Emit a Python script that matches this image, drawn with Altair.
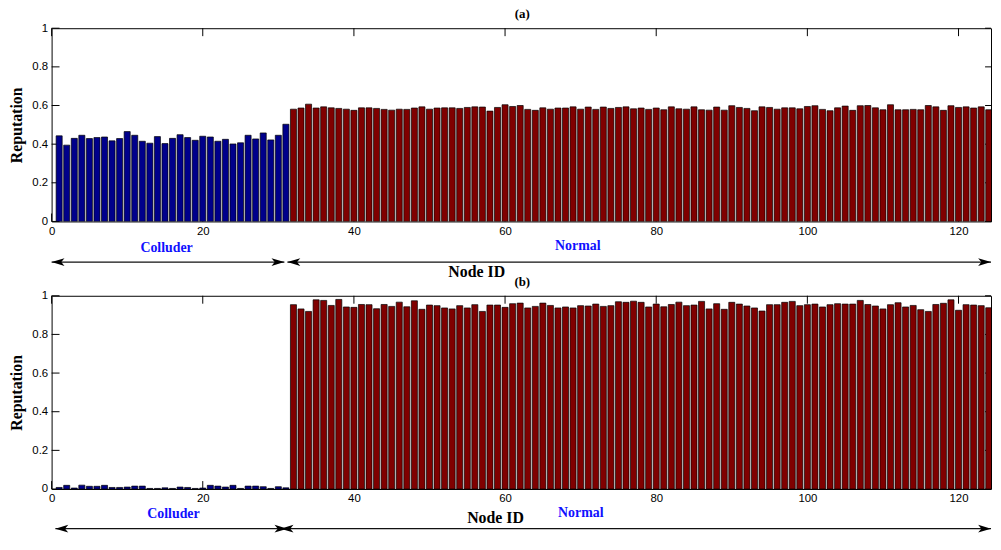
import altair as alt
import pandas as pd

# ---------------- data ----------------
node_ids = list(range(1, 125))
n_colluders = 31

rep_a_colluder = [0.443, 0.395, 0.430, 0.446, 0.429, 0.434, 0.437, 0.417, 0.429, 0.465,
                  0.446, 0.415, 0.405, 0.439, 0.403, 0.430, 0.449, 0.434, 0.420, 0.441,
                  0.437, 0.415, 0.425, 0.401, 0.407, 0.446, 0.427, 0.458, 0.422, 0.446,
                  0.503]
rep_a_normal = [0.581, 0.587, 0.607, 0.587, 0.593, 0.588, 0.585, 0.581, 0.575, 0.588,
                0.588, 0.585, 0.580, 0.576, 0.581, 0.580, 0.587, 0.593, 0.581, 0.587,
                0.588, 0.588, 0.585, 0.590, 0.593, 0.592, 0.571, 0.590, 0.604, 0.595,
                0.600, 0.580, 0.575, 0.588, 0.581, 0.587, 0.587, 0.593, 0.581, 0.592,
                0.580, 0.592, 0.585, 0.590, 0.593, 0.583,
                0.587, 0.580, 0.587, 0.578, 0.593, 0.583, 0.581, 0.593, 0.578, 0.576,
                0.592, 0.576, 0.599, 0.590, 0.585, 0.573, 0.593, 0.590, 0.581, 0.588,
                0.588, 0.583, 0.595, 0.599, 0.580, 0.573, 0.588, 0.597, 0.575, 0.599,
                0.600, 0.588, 0.578, 0.604, 0.578, 0.578, 0.580, 0.578, 0.600, 0.593,
                0.575, 0.599, 0.590, 0.593, 0.587, 0.593, 0.578]

rep_b_colluder = [0.008, 0.019, 0.005, 0.020, 0.014, 0.014, 0.019, 0.008, 0.008, 0.010,
                  0.015, 0.015, 0.003, 0.003, 0.006, 0.003, 0.010, 0.008, 0.003, 0.005,
                  0.019, 0.015, 0.010, 0.019, 0.003, 0.015, 0.015, 0.012, 0.003, 0.012,
                  0.006]
rep_b_normal = [0.954, 0.932, 0.919, 0.979, 0.976, 0.950, 0.981, 0.942, 0.940, 0.955,
                0.954, 0.933, 0.955, 0.945, 0.967, 0.943, 0.974, 0.930, 0.952, 0.949,
                0.937, 0.932, 0.949, 0.937, 0.954, 0.919, 0.952, 0.952, 0.940, 0.959,
                0.962, 0.937, 0.945, 0.962, 0.950, 0.937, 0.942, 0.937, 0.949, 0.947,
                0.957, 0.945, 0.949, 0.969, 0.966, 0.972,
                0.966, 0.942, 0.957, 0.943, 0.955, 0.967, 0.949, 0.952, 0.971, 0.932,
                0.959, 0.930, 0.966, 0.957, 0.947, 0.937, 0.921, 0.954, 0.954, 0.966,
                0.971, 0.949, 0.954, 0.957, 0.942, 0.954, 0.959, 0.957, 0.957, 0.976,
                0.955, 0.947, 0.932, 0.954, 0.964, 0.942, 0.950, 0.928, 0.919, 0.955,
                0.961, 0.979, 0.925, 0.954, 0.952, 0.949, 0.938]

x_ticks = [0, 20, 40, 60, 80, 100, 120]
y_ticks = [0, 0.2, 0.4, 0.6, 0.8, 1]
groups = ["Colluder", "Normal"]
group_colors = ["#00008b", "#800000"]

W, H = 948, 195
X_MAX = 124.3
XS = alt.Scale(domain=[0, X_MAX], nice=False, zero=False)
YS = alt.Scale(domain=[0, 1], nice=False)
XAX = alt.Axis(values=x_ticks, title=None, labelFlush=False, labelPadding=4, format="d")
YAX = alt.Axis(values=y_ticks, title="Reputation", format="~g", labelFlush=False,
               labelPadding=4, titlePadding=7)

LEFT_HEAD = "M -1 0 L 1 -0.6 L 0.5 0 L 1 0.6 Z"
RIGHT_HEAD = "M 1 0 L -1 -0.6 L -0.5 0 L -1 0.6 Z"


def text_layer(txt, x, y, size, color="black"):
    return alt.Chart(pd.DataFrame({"t": [txt]})).mark_text(
        text=txt, font="Liberation Serif", fontWeight="bold", fontSize=size,
        color=color, align="center", baseline="middle"
    ).encode(x=alt.value(x), y=alt.value(y))


def panel(rep_col, rep_norm, tag, col_pos, norm_pos, nid_pos, arrows, arrow_y):
    df = pd.DataFrame({
        "node": node_ids,
        "rep": rep_col + rep_norm,
        "group": [groups[0] if i <= n_colluders else groups[1] for i in node_ids],
    })
    bars = alt.Chart(df).transform_calculate(
        x0="datum.node - 0.4", x1="datum.node + 0.4", base="0"
    ).mark_bar(stroke="black", strokeWidth=0.7, clip=True).encode(
        x=alt.X("x0:Q", scale=XS, axis=XAX),
        x2="x1:Q",
        y=alt.Y("rep:Q", scale=YS, axis=YAX),
        y2="base:Q",
        color=alt.Color("group:N", scale=alt.Scale(domain=groups, range=group_colors), legend=None),
    )
    ydf = pd.DataFrame({"v": y_ticks})
    xdf = pd.DataFrame({"v": x_ticks})
    tick_style = dict(color="black", strokeWidth=1)
    lt = alt.Chart(ydf).mark_rule(**tick_style).encode(
        y=alt.Y("v:Q", scale=YS, axis=YAX), x=alt.value(0), x2=alt.value(8))
    rt = alt.Chart(ydf).mark_rule(**tick_style).encode(
        y=alt.Y("v:Q", scale=YS, axis=YAX), x=alt.value(W - 6), x2=alt.value(W))
    tt = alt.Chart(xdf).mark_rule(**tick_style).encode(
        x=alt.X("v:Q", scale=XS, axis=XAX), y=alt.value(0), y2=alt.value(8))
    bt = alt.Chart(xdf).mark_rule(**tick_style).encode(
        x=alt.X("v:Q", scale=XS, axis=XAX), y=alt.value(H - 8), y2=alt.value(H))

    adf = pd.DataFrame({"a": [a[0] for a in arrows], "b": [a[1] for a in arrows]})
    lines = alt.Chart(adf).mark_rule(color="#111111", strokeWidth=1.4).encode(
        x=alt.X("a:Q", scale=XS, axis=XAX), x2="b:Q", y=alt.value(arrow_y))
    lheads = alt.Chart(adf).mark_point(
        shape=LEFT_HEAD, filled=True, size=169, color="black", opacity=1, xOffset=6.5
    ).encode(x=alt.X("a:Q", scale=XS, axis=XAX), y=alt.value(arrow_y))
    rheads = alt.Chart(adf).mark_point(
        shape=RIGHT_HEAD, filled=True, size=169, color="black", opacity=1, xOffset=-6.5
    ).encode(x=alt.X("b:Q", scale=XS, axis=XAX), y=alt.value(arrow_y))

    layers = [lt, rt, tt, bt, bars, lines, lheads, rheads,
              text_layer(tag, 475, -14, 13),
              text_layer("Colluder", col_pos[0], col_pos[1], 14, "#1010ff"),
              text_layer("Normal", norm_pos[0], norm_pos[1], 14, "#1010ff"),
              text_layer("Node ID", nid_pos[0], nid_pos[1], 16)]
    return alt.layer(*layers).properties(width=W, height=H)


pa = panel(rep_a_colluder, rep_a_normal, "(a)", (116, 222), (531, 220), (429, 246),
           [(0.0, 30.8), (31.2, X_MAX)], 236)
pb = panel(rep_b_colluder, rep_b_normal, "(b)", (123, 220), (534, 219), (448, 224),
           [(0.5, 31.2), (30.3, X_MAX)], 235)

chart = alt.vconcat(pa, pb, spacing=75, bounds="flush").properties(
    padding={"left": 0, "top": -3, "right": 0, "bottom": -2}
).configure_view(stroke="black", strokeWidth=1).configure_axis(
    grid=False, ticks=False, domain=False,
    labelFont="Liberation Sans", labelFontSize=11.5, labelColor="black",
    titleFont="Liberation Serif", titleFontWeight="bold", titleFontSize=16, titleColor="black",
)

chart.save("out.html", embed_options={"renderer": "svg", "actions": False})
